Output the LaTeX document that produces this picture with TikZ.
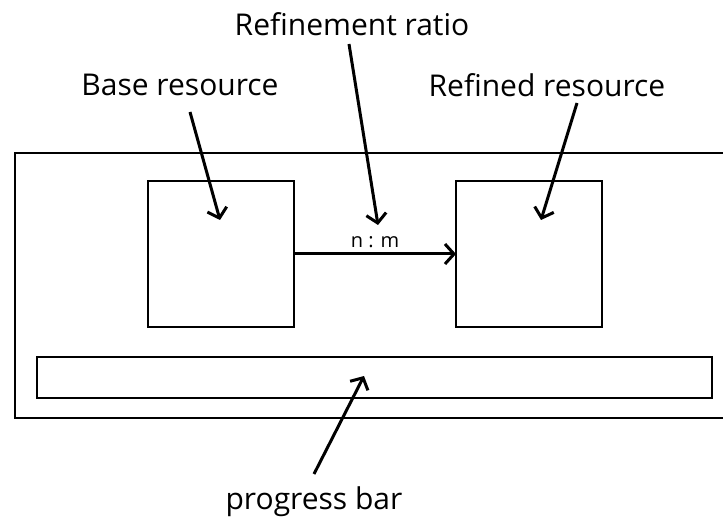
\documentclass[tikz,border=0pt]{standalone}
\usepackage{fontspec}
\setmainfont{Open Sans}
\usetikzlibrary{arrows.meta}
\begin{document}
\begin{tikzpicture}[x=1pt,y=-1pt,
  box/.style={draw,line width=2pt,minimum width=#1,inner sep=0pt,outer sep=0pt},
  lbl/.style={font=\fontsize{30}{34}\selectfont,inner sep=0pt,anchor=center},
  ptr/.style={line width=3pt,-{Straight Barb[length=9pt,width=20pt,line width=3pt]}}
]
\useasboundingbox (0,0) rectangle (723,521);
\begin{scope}
\clip (0,0) rectangle (723,521);
\node[box=725pt,minimum height=265pt] (outer) at (377.5,285.5) {};
\end{scope}
\node[box=146pt,minimum height=146pt] (base) at (221,254) {};
\node[box=146pt,minimum height=146pt] (refined) at (529,254) {};
\node[box=675pt,minimum height=41pt] (bar) at (374.5,377) {};
\draw[ptr] (base.east) -- node[above=5pt,font=\fontsize{20}{22}\selectfont,inner sep=0pt] (ratio) {n : m} (refined.west);
\node[lbl] (tbase) at (180,85) {Base resource};
\node[lbl] (tratio) at (352,24) {Refinement ratio};
\node[lbl] (trefined) at (547,85) {Refined resource};
\node[lbl] (tbar) at (314,502) {progress bar};
\coordinate (s1) at (190,112); \coordinate (e1) at (220,220);
\coordinate (s2) at (349,44);  \coordinate (e2) at (378,225);
\coordinate (s3) at (577,103); \coordinate (e3) at (541,220);
\coordinate (s4) at (314,474); \coordinate (e4) at (364,376);
\draw[ptr] (s1) -- (e1);
\draw[ptr] (s2) -- (e2);
\draw[ptr] (s3) -- (e3);
\draw[ptr] (s4) -- (e4);
\end{tikzpicture}
\end{document}
